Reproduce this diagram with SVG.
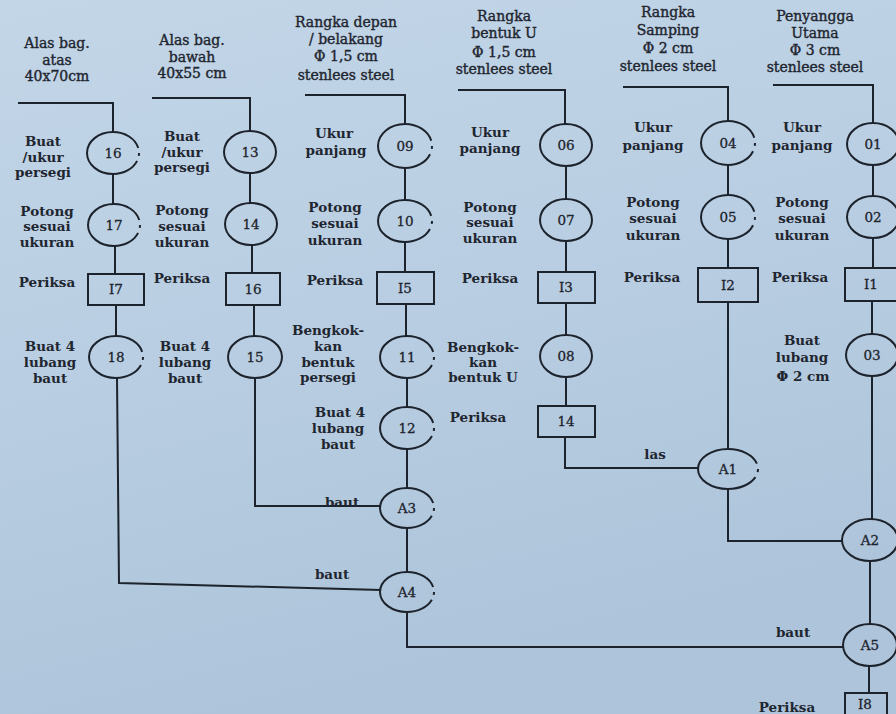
<svg xmlns="http://www.w3.org/2000/svg" width="896" height="714" viewBox="0 0 896 714">
  <defs>
    <linearGradient id="paper" x1="0" y1="0" x2="0.3" y2="1">
      <stop offset="0" stop-color="#c3d6e8"/>
      <stop offset="0.5" stop-color="#b9cee2"/>
      <stop offset="1" stop-color="#adc4da"/>
    </linearGradient>
    <style>
      .ln { fill: none; stroke: #1d232c; stroke-width: 2; stroke-linejoin: miter; }
      .nd { fill: none; stroke: #1d232c; stroke-width: 2; }
      .gap { stroke-dasharray: 2 3.5 91 3.5; }
      .bx { fill: none; stroke: #1d232c; stroke-width: 2; }
      .num { font-family: "DejaVu Serif", "Liberation Serif", serif; font-size: 13.5px; text-anchor: middle; fill: #1d232c; stroke: #1d232c; stroke-width: 0.3; }
      .lb { font-family: "DejaVu Serif", "Liberation Serif", serif; font-size: 13.5px; font-weight: bold; text-anchor: middle; fill: #1f2630; }
      .hd { font-family: "DejaVu Serif", "Liberation Serif", serif; font-size: 14px; text-anchor: middle; fill: #1f2630; stroke: #1f2630; stroke-width: 0.4; }
    </style>
  </defs>

  <rect x="0" y="0" width="896" height="714" fill="url(#paper)"/>

  <!-- material headers -->
  <g id="headers">
    <text class="hd" x="57" y="48">Alas bag.</text>
    <text class="hd" x="57" y="65">atas</text>
    <text class="hd" x="57" y="81">40x70cm</text>

    <text class="hd" x="192" y="45">Alas bag.</text>
    <text class="hd" x="192" y="62">bawah</text>
    <text class="hd" x="192" y="78">40x55 cm</text>

    <text class="hd" x="346" y="27">Rangka depan</text>
    <text class="hd" x="346" y="44">/ belakang</text>
    <text class="hd" x="346" y="61">Φ 1,5 cm</text>
    <text class="hd" x="346" y="80">stenlees steel</text>

    <text class="hd" x="504" y="21">Rangka</text>
    <text class="hd" x="504" y="38">bentuk U</text>
    <text class="hd" x="504" y="57">Φ 1,5 cm</text>
    <text class="hd" x="504" y="74">stenlees steel</text>

    <text class="hd" x="668" y="17">Rangka</text>
    <text class="hd" x="668" y="35">Samping</text>
    <text class="hd" x="668" y="53">Φ 2 cm</text>
    <text class="hd" x="668" y="71">stenlees steel</text>

    <text class="hd" x="815" y="21">Penyangga</text>
    <text class="hd" x="815" y="38">Utama</text>
    <text class="hd" x="815" y="55">Φ 3 cm</text>
    <text class="hd" x="815" y="72">stenlees steel</text>
  </g>

  <!-- flow lines -->
  <g id="connectors">
    <!-- alas bagian atas -->
    <path class="ln" d="M18 103 H113 V132"/>
    <path class="ln" d="M113 174 V204"/>
    <path class="ln" d="M115 246 V274"/>
    <path class="ln" d="M116 305 V336"/>
    <path class="ln" d="M117 378 L119 583 L381 590"/>
    <!-- alas bagian bawah -->
    <path class="ln" d="M152 98 H250 V131"/>
    <path class="ln" d="M250 173 V203"/>
    <path class="ln" d="M252 245 V273"/>
    <path class="ln" d="M254 305 V336"/>
    <path class="ln" d="M255 378 V506 H380"/>
    <!-- rangka depan / belakang -->
    <path class="ln" d="M305 95 H405 V124"/>
    <path class="ln" d="M405 168 V200"/>
    <path class="ln" d="M405 242 V272"/>
    <path class="ln" d="M406 304 V336"/>
    <path class="ln" d="M407 378 V407"/>
    <path class="ln" d="M407 449 V488"/>
    <path class="ln" d="M407 528 V572"/>
    <path class="ln" d="M407 612 V647 H843"/>
    <!-- rangka bentuk U -->
    <path class="ln" d="M458 90 H565 V124"/>
    <path class="ln" d="M566 166 V199"/>
    <path class="ln" d="M566 241 V272"/>
    <path class="ln" d="M566 303 V335"/>
    <path class="ln" d="M566 377 V406"/>
    <path class="ln" d="M565 437 V468 H698"/>
    <!-- rangka samping -->
    <path class="ln" d="M623 87 H728 V121"/>
    <path class="ln" d="M728 165 V195"/>
    <path class="ln" d="M728 239 V268"/>
    <path class="ln" d="M728 302 V449"/>
    <path class="ln" d="M728 489 V541 H842"/>
    <!-- penyangga utama -->
    <path class="ln" d="M773 85 H873 V123"/>
    <path class="ln" d="M873 165 V196"/>
    <path class="ln" d="M873 238 V268"/>
    <path class="ln" d="M872 301 V334"/>
    <path class="ln" d="M872 376 V519"/>
    <path class="ln" d="M870 561 V624"/>
    <path class="ln" d="M869 666 V693"/>
    <!-- joining labels -->
    <text class="lb" x="655" y="459">las</text>
    <text class="lb" x="342" y="507">baut</text>
    <text class="lb" x="332" y="579">baut</text>
    <text class="lb" x="793" y="637">baut</text>
  </g>

  <!-- alas bagian atas -->
  <g id="op16">
    <ellipse class="nd gap" pathLength="100" cx="113" cy="153" rx="26" ry="21"/>
    <text class="num" x="113" y="158">16</text>
    <text class="lb" x="43" y="146">Buat</text>
    <text class="lb" x="43" y="162">/ukur</text>
    <text class="lb" x="43" y="177">persegi</text>
  </g>
  <g id="op17">
    <ellipse class="nd gap" pathLength="100" cx="114" cy="225" rx="26" ry="21"/>
    <text class="num" x="114" y="230">17</text>
    <text class="lb" x="47" y="216">Potong</text>
    <text class="lb" x="47" y="231">sesuai</text>
    <text class="lb" x="47" y="247">ukuran</text>
  </g>
  <g id="ins17">
    <rect class="bx" x="88" y="274" width="56" height="31"/>
    <text class="num" x="116" y="294">I7</text>
    <text class="lb" x="47" y="287">Periksa</text>
  </g>
  <g id="op18">
    <ellipse class="nd gap" pathLength="100" cx="116" cy="357" rx="27" ry="21"/>
    <text class="num" x="116" y="362">18</text>
    <text class="lb" x="50" y="351">Buat 4</text>
    <text class="lb" x="50" y="367">lubang</text>
    <text class="lb" x="50" y="383">baut</text>
  </g>

  <!-- alas bagian bawah -->
  <g id="op13">
    <ellipse class="nd" cx="250" cy="152" rx="26" ry="21"/>
    <text class="num" x="250" y="157">13</text>
    <text class="lb" x="182" y="141">Buat</text>
    <text class="lb" x="182" y="157">/ukur</text>
    <text class="lb" x="182" y="172">persegi</text>
  </g>
  <g id="op14">
    <ellipse class="nd" cx="251" cy="224" rx="26" ry="21"/>
    <text class="num" x="251" y="229">14</text>
    <text class="lb" x="182" y="215">Potong</text>
    <text class="lb" x="182" y="231">sesuai</text>
    <text class="lb" x="182" y="247">ukuran</text>
  </g>
  <g id="ins16">
    <rect class="bx" x="226" y="273" width="54" height="32"/>
    <text class="num" x="253" y="294">16</text>
    <text class="lb" x="182" y="283">Periksa</text>
  </g>
  <g id="op15">
    <ellipse class="nd" cx="255" cy="357" rx="27" ry="21"/>
    <text class="num" x="255" y="362">15</text>
    <text class="lb" x="185" y="351">Buat 4</text>
    <text class="lb" x="185" y="367">lubang</text>
    <text class="lb" x="185" y="383">baut</text>
  </g>

  <!-- rangka depan / belakang -->
  <g id="op09">
    <ellipse class="nd gap" pathLength="100" cx="405" cy="146" rx="27" ry="22"/>
    <text class="num" x="405" y="151">09</text>
    <text class="lb" x="334" y="138">Ukur</text>
    <text class="lb" x="336" y="155">panjang</text>
  </g>
  <g id="op10">
    <ellipse class="nd gap" pathLength="100" cx="405" cy="221" rx="27" ry="21"/>
    <text class="num" x="405" y="226">10</text>
    <text class="lb" x="335" y="212">Potong</text>
    <text class="lb" x="335" y="228">sesuai</text>
    <text class="lb" x="335" y="245">ukuran</text>
  </g>
  <g id="ins15">
    <rect class="bx" x="377" y="272" width="57" height="32"/>
    <text class="num" x="405" y="293">I5</text>
    <text class="lb" x="335" y="285">Periksa</text>
  </g>
  <g id="op11">
    <ellipse class="nd gap" pathLength="100" cx="407" cy="357" rx="27" ry="21"/>
    <text class="num" x="407" y="362">11</text>
    <text class="lb" x="328" y="335">Bengkok-</text>
    <text class="lb" x="328" y="351">kan</text>
    <text class="lb" x="328" y="367">bentuk</text>
    <text class="lb" x="328" y="382">persegi</text>
  </g>
  <g id="op12">
    <ellipse class="nd gap" pathLength="100" cx="407" cy="428" rx="27" ry="21"/>
    <text class="num" x="407" y="433">12</text>
    <text class="lb" x="340" y="417">Buat 4</text>
    <text class="lb" x="338" y="433">lubang</text>
    <text class="lb" x="338" y="449">baut</text>
  </g>
  <g id="asmA3">
    <ellipse class="nd gap" pathLength="100" cx="407" cy="508" rx="27" ry="20"/>
    <text class="num" x="407" y="513">A3</text>
  </g>
  <g id="asmA4">
    <ellipse class="nd gap" pathLength="100" cx="407" cy="592" rx="27" ry="20"/>
    <text class="num" x="407" y="597">A4</text>
  </g>

  <!-- rangka bentuk U -->
  <g id="op06">
    <ellipse class="nd" cx="566" cy="145" rx="26" ry="21"/>
    <text class="num" x="566" y="150">06</text>
    <text class="lb" x="490" y="137">Ukur</text>
    <text class="lb" x="490" y="153">panjang</text>
  </g>
  <g id="op07">
    <ellipse class="nd" cx="566" cy="220" rx="26" ry="21"/>
    <text class="num" x="566" y="225">07</text>
    <text class="lb" x="490" y="212">Potong</text>
    <text class="lb" x="490" y="227">sesuai</text>
    <text class="lb" x="490" y="243">ukuran</text>
  </g>
  <g id="ins13">
    <rect class="bx" x="538" y="272" width="57" height="31"/>
    <text class="num" x="566" y="292">I3</text>
    <text class="lb" x="490" y="283">Periksa</text>
  </g>
  <g id="op08">
    <ellipse class="nd" cx="566" cy="356" rx="26" ry="21"/>
    <text class="num" x="566" y="361">08</text>
    <text class="lb" x="483" y="352">Bengkok-</text>
    <text class="lb" x="483" y="367">kan</text>
    <text class="lb" x="483" y="382">bentuk U</text>
  </g>
  <g id="ins14">
    <rect class="bx" x="538" y="406" width="57" height="31"/>
    <text class="num" x="566" y="426">14</text>
    <text class="lb" x="478" y="422">Periksa</text>
  </g>

  <!-- rangka samping -->
  <g id="op04">
    <ellipse class="nd gap" pathLength="100" cx="728" cy="143" rx="27" ry="22"/>
    <text class="num" x="728" y="148">04</text>
    <text class="lb" x="653" y="132">Ukur</text>
    <text class="lb" x="653" y="150">panjang</text>
  </g>
  <g id="op05">
    <ellipse class="nd gap" pathLength="100" cx="728" cy="217" rx="27" ry="22"/>
    <text class="num" x="728" y="222">05</text>
    <text class="lb" x="653" y="207">Potong</text>
    <text class="lb" x="653" y="223">sesuai</text>
    <text class="lb" x="653" y="240">ukuran</text>
  </g>
  <g id="ins12">
    <rect class="bx" x="698" y="268" width="60" height="34"/>
    <text class="num" x="728" y="290">I2</text>
    <text class="lb" x="652" y="282">Periksa</text>
  </g>
  <g id="asmA1">
    <ellipse class="nd gap" pathLength="100" cx="728" cy="469" rx="30" ry="20"/>
    <text class="num" x="728" y="474">A1</text>
  </g>

  <!-- penyangga utama -->
  <g id="op01">
    <ellipse class="nd" cx="873" cy="144" rx="26" ry="21"/>
    <text class="num" x="873" y="149">01</text>
    <text class="lb" x="802" y="132">Ukur</text>
    <text class="lb" x="802" y="150">panjang</text>
  </g>
  <g id="op02">
    <ellipse class="nd" cx="873" cy="217" rx="26" ry="21"/>
    <text class="num" x="873" y="222">02</text>
    <text class="lb" x="802" y="207">Potong</text>
    <text class="lb" x="802" y="223">sesuai</text>
    <text class="lb" x="802" y="240">ukuran</text>
  </g>
  <g id="ins11">
    <rect class="bx" x="845" y="268" width="56" height="33"/>
    <text class="num" x="871" y="289">I1</text>
    <text class="lb" x="800" y="282">Periksa</text>
  </g>
  <g id="op03">
    <ellipse class="nd" cx="872" cy="355" rx="26" ry="21"/>
    <text class="num" x="872" y="360">03</text>
    <text class="lb" x="802" y="345">Buat</text>
    <text class="lb" x="802" y="362">lubang</text>
    <text class="lb" x="803" y="381">Φ 2 cm</text>
  </g>
  <g id="asmA2">
    <ellipse class="nd" cx="870" cy="540" rx="28" ry="21"/>
    <text class="num" x="870" y="545">A2</text>
  </g>
  <g id="asmA5">
    <ellipse class="nd" cx="870" cy="645" rx="27" ry="21"/>
    <text class="num" x="870" y="650">A5</text>
  </g>
  <g id="ins18">
    <rect class="bx" x="845" y="693" width="42" height="26"/>
    <text class="num" x="865" y="709">I8</text>
    <text class="lb" x="787" y="712">Periksa</text>
  </g>
</svg>
